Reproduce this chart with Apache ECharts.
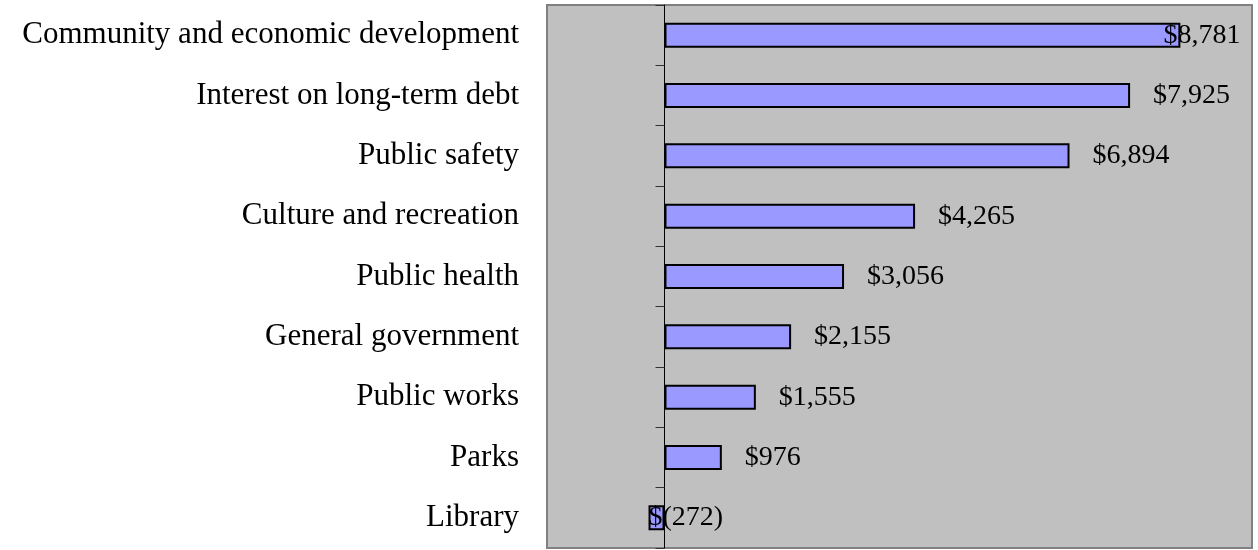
<!DOCTYPE html>
<html>
<head>
<meta charset="utf-8">
<script src="https://cdn.jsdelivr.net/npm/echarts@6/dist/echarts.min.js"></script>
<style>
  html, body { margin: 0; padding: 0; background: #fff; }
  #chart { width: 1258px; height: 550px; }
</style>
</head>
<body>
<div id="chart"></div>
<script>
// top-to-bottom order as shown
const categories = [
  'Community and economic development',
  'Interest on long-term debt',
  'Public safety',
  'Culture and recreation',
  'Public health',
  'General government',
  'Public works',
  'Parks',
  'Library'
]
const values = [8781, 7925, 6894, 4265, 3056, 2155, 1555, 976, -272]

const FONT = '"Liberation Serif", "Times New Roman", serif'

function money(v) {
  const s = Math.abs(v).toLocaleString('en-US')
  return v < 0 ? '$(' + s + ')' : '$' + s
}

const chart = echarts.init(document.getElementById('chart'))

const barData = values.map((v, i) => {
  const item = { value: v }
  if (i === 0) item.label = { position: 'right', distance: -17 }
  if (v < 0) item.label = { position: 'insideLeft', distance: 0 }
  return item
})

chart.setOption({
  animation: false,
  grid: {
    left: 547, top: 5, right: 6, bottom: 2,
    show: true,
    backgroundColor: '#c0c0c0',
    borderColor: '#808080',
    borderWidth: 2
  },
  xAxis: {
    type: 'value',
    min: -2000,
    max: 10000,
    axisLabel: { show: false },
    axisTick: { show: false },
    axisLine: { show: false },
    splitLine: { show: false }
  },
  yAxis: [
    {
      type: 'category',
      data: categories,
      inverse: true,
      axisLine: { onZero: true, lineStyle: { color: '#000', width: 1 } },
      axisTick: { show: true, length: 9, lineStyle: { color: '#333' } },
      axisLabel: { show: false },
      splitLine: { show: false }
    },
    {
      type: 'category',
      data: categories,
      inverse: true,
      position: 'left',
      axisLine: { show: false, onZero: false },
      axisTick: { show: false },
      axisLabel: { margin: 28, color: '#000', fontFamily: FONT, fontSize: 31 },
      splitLine: { show: false }
    }
  ],
  series: [{
    type: 'bar',
    yAxisIndex: 0,
    data: barData,
    barWidth: 25,
    itemStyle: { color: '#9999ff', borderColor: '#000', borderWidth: 2 },
    label: {
      show: true,
      position: 'right',
      distance: 23,
      color: '#000',
      fontFamily: FONT,
      fontSize: 28,
      formatter: p => money(p.value)
    }
  }]
})
</script>
</body>
</html>
